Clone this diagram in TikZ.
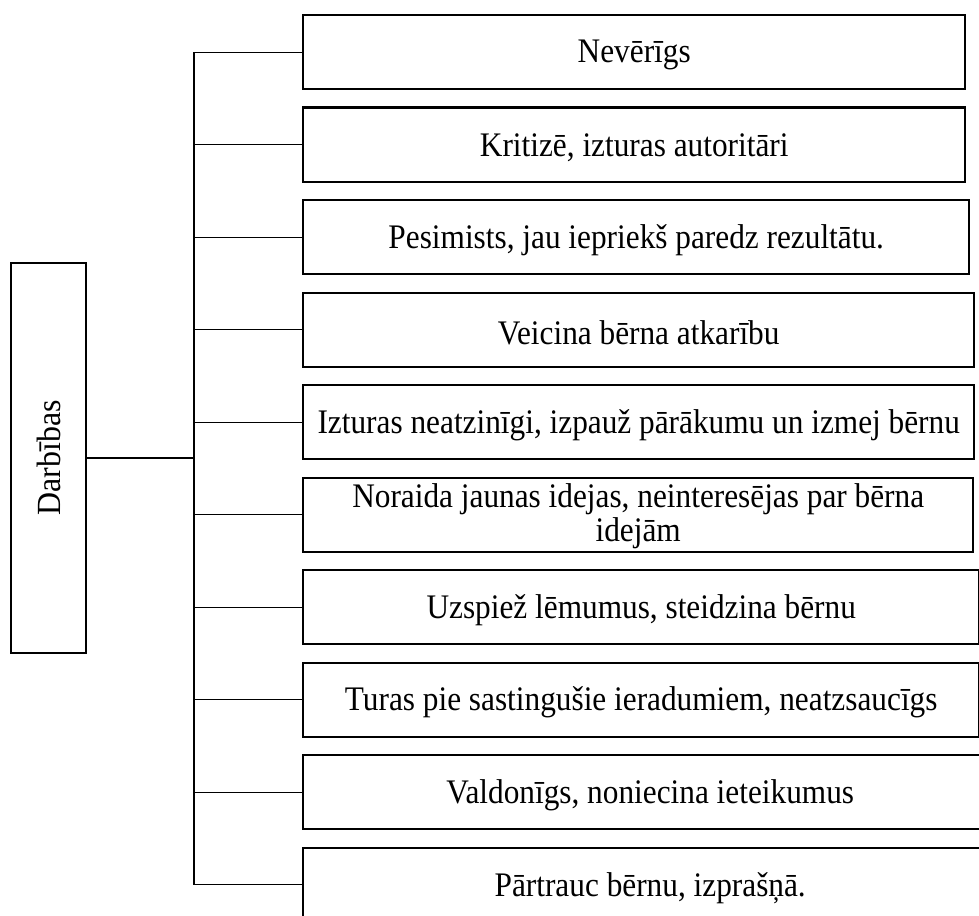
\documentclass[tikz,border=0pt]{standalone}
\usepackage{fontspec}
\usepackage{graphicx}
\setmainfont{Liberation Serif}
\newcommand{\vst}[1]{\raisebox{-3pt}[\height][\depth]{\scalebox{1}[1.1]{#1}}}
\begin{document}
\begin{tikzpicture}[x=1pt,y=-1pt,
  itembox/.style={draw=black, line width=2.4pt, fill=white, minimum height=74pt, anchor=north west, inner sep=0pt, align=center, font=\fontsize{31.3}{30}\selectfont},
  headbox/.style={draw=black, line width=2.4pt, minimum width=75pt, minimum height=390pt, inner sep=0pt, font=\fontsize{31.3}{34}\selectfont},
  conn/.style={draw=black, line width=1.1pt}]
\useasboundingbox (0,0) rectangle (979,915);
\clip (0,0) rectangle (979,915);
\fill[white] (0,0) rectangle (979,915);

\node[headbox] (d) at (48.5,458) {\rotatebox{90}{\scalebox{1.02}[1.08]{Darbības}}};

\node[itembox, minimum width=662pt] (b1) at (302,14) {\vst{Nevērīgs}};
\node[itembox, minimum width=662pt] (b2) at (302,106.5) {\vst{Kritizē, izturas autoritāri}};
\node[itembox, minimum width=666pt] (b3) at (302,199) {\vst{Pesimists, jau iepriekš paredz rezultātu.}};
\node[itembox, minimum width=671pt] (b4) at (302,291.5) {\vst{Veicina bērna atkarību}};
\node[itembox, minimum width=671pt] (b5) at (302,384) {\vst{Izturas neatzinīgi, izpauž pārākumu un izmej bērnu}};
\node[itembox, minimum width=670pt] (b6) at (302,476.5) {\vst{\begin{tabular}{@{}c@{}}Noraida jaunas idejas, neinteresējas par bērna\\idejām\end{tabular}}};
\node[itembox, minimum width=676pt] (b7) at (302,569) {\vst{Uzspiež lēmumus, steidzina bērnu}};
\node[itembox, minimum width=676pt] (b8) at (302,661.5) {\vst{Turas pie sastingušie ieradumiem, neatzsaucīgs}};
\node[itembox, minimum width=694pt] (b9) at (302,754) {\vst{Valdonīgs, noniecina ieteikumus}};
\node[itembox, minimum width=694pt] (b10) at (302,846.5) {\vst{Pārtrauc bērnu, izprašņā.}};

\foreach \i in {1,...,10} {
  \coordinate (t\i) at (b\i.west -| 194,0);
}
\draw[conn] (t1) -- (t10);
\foreach \i in {1,...,10} {
  \draw[conn] (t\i) -- (b\i.west);
}
\coordinate (dj) at (d.east -| 194,0);
\draw[conn] (d.east) -- (dj);
\end{tikzpicture}
\end{document}
